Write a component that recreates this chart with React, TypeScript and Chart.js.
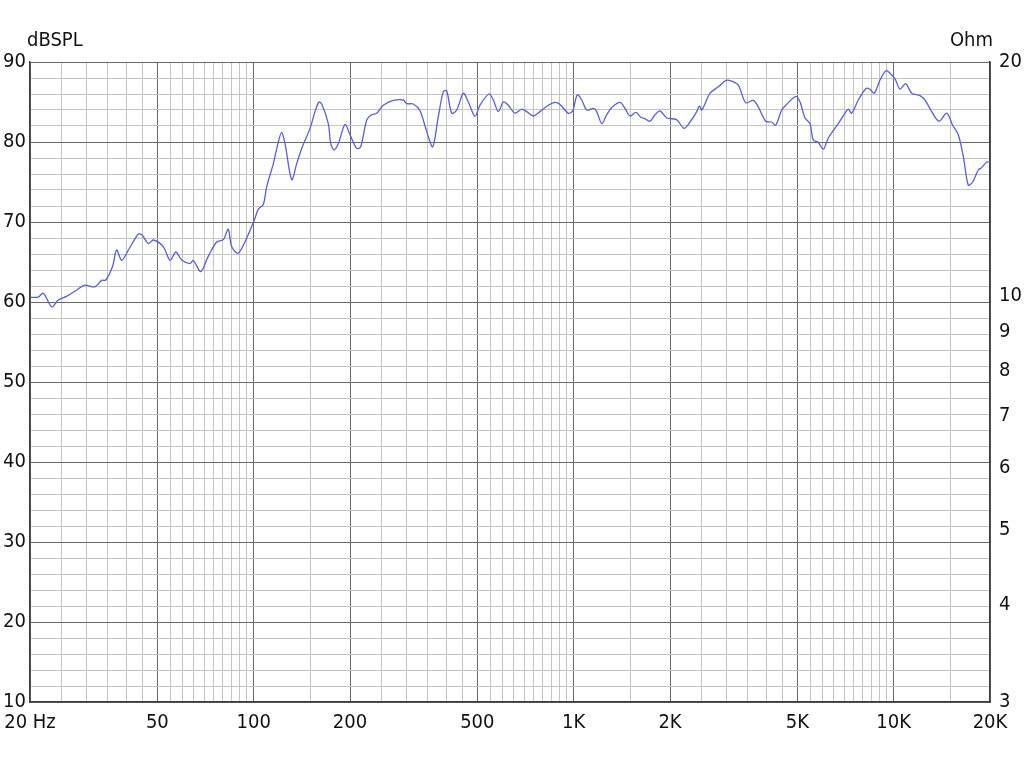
import { useEffect, useRef } from "react";
import Chart from "chart.js/auto";

// Frequency (Hz) of each read point
const freqs = [
  20, 21.2, 22.0, 23.4, 24.5, 26.0, 28.0, 29.6, 31.9, 33.5, 34.5, 36.2, 37.3, 38.7, 40.6, 43.6, 44.7, 46.9, 48.6,
  52.2, 54.8, 57.1, 59.6, 63.2, 64.8, 68.3, 72.1, 76.6, 80.4, 83.3, 85.4, 89.5, 95.1, 101, 103.4, 107.2, 109.8,
  115.2, 119.4, 122.3, 125.3, 131.5, 136.3, 141.3, 150, 155.5, 160, 163.2, 171.1, 174.1, 178.3, 183.9, 192.9,
  200, 209.8, 216, 225.6, 233.8, 242.4, 254.2, 273.2, 293.6, 300.8, 315.4, 331, 347.4, 362.6, 377.6, 391.4,
  401, 415.8, 431, 452, 468.6, 491.6, 509.6, 543.8, 560.8, 581.4, 602.8, 624.8, 655.6, 688, 713.4, 748,
  784.8, 833.2, 874.2, 906.4, 962.2, 993, 1026, 1060, 1098, 1152, 1180, 1224, 1268, 1315, 1396, 1447, 1500,
  1566, 1620, 1671, 1732, 1796, 1861, 1953, 2098, 2212, 2310, 2424, 2470, 2514, 2668, 2832, 2992, 3118, 3270,
  3448, 3642, 3774, 3982, 4158, 4278, 4468, 4630, 4952, 5098, 5284, 5476, 5608, 5814, 6028, 6248, 6714, 7046,
  7214, 7392, 7752, 8194, 8434, 8698, 9064, 9464, 9738, 10096, 10468, 10906, 11386, 12086, 12530, 13148,
  13856, 14646, 15292, 15920, 16504, 17108, 17660, 18384, 18842, 19532, 20000,
];

// Sound pressure level (dB SPL) at each frequency
const spl = [
  60.6, 60.6, 61.1, 59.4, 60.25, 60.7, 61.5, 62.1, 61.9, 62.7, 62.75, 64.4, 66.5, 65.2, 66.5, 68.5, 68.4, 67.3, 67.75,
  66.9, 65.2, 66.25, 65.25, 64.8, 65.2, 63.8, 65.7, 67.5, 67.8, 69.1, 66.9, 66.1, 68.0, 70.5, 71.6, 72.2, 74.4,
  77.3, 80.0, 81.2, 79.8, 75.3, 77.3, 79.2, 81.7, 83.8, 85.0, 84.75, 82.3, 79.8, 79.0, 79.8, 82.2,
  80.9, 79.2, 79.4, 82.75, 83.4, 83.6, 84.6, 85.2, 85.25, 84.8, 84.75, 83.9, 81.3, 79.4, 83.2, 86.3,
  86.4, 83.6, 84.0, 86.1, 85.0, 83.2, 84.6, 86.0, 85.25, 83.8, 85.0, 84.6, 83.6, 84.1, 83.8, 83.25,
  83.8, 84.6, 84.95, 84.7, 83.6, 83.9, 85.9, 85.25, 84.0, 84.2, 83.8, 82.3, 83.4, 84.3, 84.95, 84.2, 83.25,
  83.7, 83.1, 82.9, 82.6, 83.4, 83.9, 83.0, 82.8, 81.7, 82.5, 83.8, 84.5, 84.0, 86.1, 86.9, 87.7, 87.6, 87.1,
  84.9, 85.2, 84.4, 82.6, 82.5, 82.1, 84.0, 84.7, 85.7, 85.0, 83.0, 82.3, 80.25, 79.95, 79.1, 80.5, 82.3, 83.6,
  84.1, 83.6, 85.25, 86.7, 86.6, 86.1, 87.75, 88.9, 88.6, 87.9, 86.6, 87.3, 86.1, 85.8, 85.25, 83.8,
  82.6, 83.6, 82.1, 80.9, 78.2, 74.6, 75.0, 76.5, 76.8, 77.5, 77.5,
];

// Labelled frequency ticks
const xLabelValues = [20, 50, 100, 200, 500, 1000, 2000, 5000, 10000, 20000];
const xLabelTexts = ["20 Hz", "50", "100", "200", "500", "1K", "2K", "5K", "10K", "20K"];
// Grid multipliers within each decade
const gridMultipliers = [1, 1.5, 2, 2.5, 3, 3.5, 4, 4.5, 5, 5.5, 6, 6.5, 7, 7.5, 8, 8.5, 9, 9.5];
const gridDecades = [10, 100, 1000, 10000];
// Impedance axis ticks (Ohm)
const ohmTicks = [3, 4, 5, 6, 7, 8, 9, 10, 20];

const FONT = "'Liberation Sans Narrow', 'DejaVu Sans Condensed', 'Liberation Sans', Arial, sans-serif";
const MAJOR = "#6a6a6a";
const MINOR = "#c4c4c4";
const BORDER = "#3c3c3c";
const LINE = "#5a5fd2";

export default function App() {
  const ref = useRef<HTMLCanvasElement | null>(null);

  useEffect(() => {
    if (!ref.current) return;
    const xGrid: number[] = [];
    gridDecades.forEach((d) =>
      gridMultipliers.forEach((m) => {
        const v = Math.round(d * m * 1000) / 1000;
        if (v >= 20 && v <= 20000) xGrid.push(v);
      })
    );
    const majorSet = new Set(xLabelValues);

    const titles = {
      id: "axisTitles",
      afterDraw(chart: any) {
        const c = chart.ctx;
        c.save();
        c.font = `20px ${FONT}`;
        c.fillStyle = "#111";
        c.textBaseline = "middle";
        c.textAlign = "left";
        c.fillText("dBSPL", 27, 41);
        c.textAlign = "right";
        c.fillText("Ohm", 993, 41);
        c.restore();
      },
    };

    const noPadX = (scale: any) => {
      scale.height = 66;
      scale.paddingLeft = 0;
      scale.paddingRight = 0;
    };

    const chart = new Chart(ref.current, {
      type: "line",
      data: {
        datasets: [
          {
            data: freqs.map((f, i) => ({ x: f, y: spl[i] })),
            borderColor: LINE,
            borderWidth: 1.3,
            pointRadius: 0,
            tension: 0.3,
            fill: false,
            yAxisID: "y",
          },
        ],
      },
      options: {
        animation: false,
        responsive: true,
        maintainAspectRatio: false,
        layout: { padding: { top: 62, left: 0, right: 0, bottom: 0 } },
        plugins: { legend: { display: false }, tooltip: { enabled: false } },
        scales: {
          x: {
            type: "logarithmic",
            min: 20,
            max: 20000,
            afterBuildTicks: (scale: any) => {
              scale.ticks = xGrid.map((v) => ({ value: v }));
            },
            afterFit: noPadX,
            ticks: {
              autoSkip: false,
              maxRotation: 0,
              minRotation: 0,
              padding: 9,
              color: "#111",
              font: { family: FONT, size: 20 },
              callback: (v: any) => {
                const i = xLabelValues.indexOf(Number(v));
                return i >= 0 ? xLabelTexts[i] : "";
              },
            },
            grid: {
              color: (ctx: any) => (majorSet.has(ctx.tick?.value) ? MAJOR : MINOR),
              lineWidth: 1,
              drawTicks: false,
            },
            border: { color: BORDER, width: 1.5 },
          },
          y: {
            type: "linear",
            position: "left",
            min: 10,
            max: 90,
            afterFit: (scale: any) => {
              scale.width = 30;
              scale.paddingTop = 0;
              scale.paddingBottom = 0;
            },
            ticks: {
              stepSize: 2,
              autoSkip: false,
              padding: 4,
              color: "#111",
              font: { family: FONT, size: 20 },
              callback: (v: any) => (Number(v) % 10 === 0 ? String(v) : ""),
            },
            grid: {
              color: (ctx: any) => (ctx.tick && ctx.tick.value % 10 === 0 ? MAJOR : MINOR),
              lineWidth: 1,
              drawTicks: false,
            },
            border: { color: BORDER, width: 1.5 },
          },
          y2: {
            type: "logarithmic",
            position: "right",
            min: 3,
            max: 20,
            afterBuildTicks: (scale: any) => {
              scale.ticks = ohmTicks.map((v) => ({ value: v }));
            },
            afterFit: (scale: any) => {
              scale.width = 34;
              scale.paddingTop = 0;
              scale.paddingBottom = 0;
            },
            ticks: {
              autoSkip: false,
              padding: 9,
              color: "#111",
              font: { family: FONT, size: 20 },
              callback: (v: any) => String(v),
            },
            grid: { display: false, drawTicks: false },
            border: { color: BORDER, width: 1.5 },
          },
        },
      },
      plugins: [titles],
    });
    return () => chart.destroy();
  }, []);

  return (
    <div style={{ position: "fixed", left: 0, top: 0, width: 1024, height: 768, background: "#fff" }}>
      <canvas ref={ref} />
    </div>
  );
}
